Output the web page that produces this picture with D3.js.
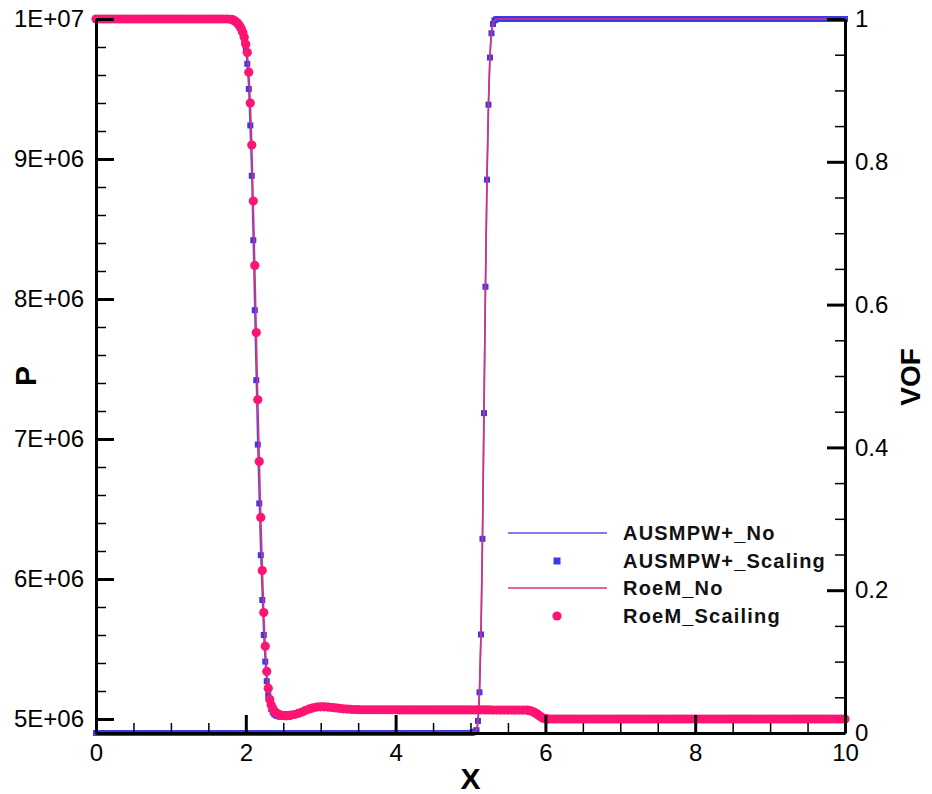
<!DOCTYPE html>
<html>
<head>
<meta charset="utf-8">
<script src="https://cdn.jsdelivr.net/npm/d3@7"></script>
<style>
  html, body { margin: 0; padding: 0; background: #fff; }
  svg { display: block; }
  text { font-family: "Liberation Sans", Arial, sans-serif; }
</style>
</head>
<body>
<svg id="chart" width="932" height="794"></svg>
<script>
// ---------------- DATA ----------------
// Tick values / labels
const xTickValues = [0, 2, 4, 6, 8, 10];
const xTickLabels = ["0", "2", "4", "6", "8", "10"];
const pTickValues = [5, 6, 7, 8, 9, 10];            // pressure in units of 1E+06
const pTickLabels = ["5E+06", "6E+06", "7E+06", "8E+06", "9E+06", "1E+07"];
const vofTickValues = [0, 0.2, 0.4, 0.6, 0.8, 1];
const vofTickLabels = ["0", "0.2", "0.4", "0.6", "0.8", "1"];

const legendLabels = ["AUSMPW+_No", "AUSMPW+_Scaling", "RoeM_No", "RoeM_Scailing"];

// Grid for pressure markers (X)
const xP = [
  0,0.05,0.1,0.15,0.2,0.25,0.3,0.35,0.4,0.45,
  0.5,0.55,0.6,0.65,0.7,0.75,0.8,0.85,0.9,0.95,
  1,1.05,1.1,1.15,1.2,1.25,1.3,1.35,1.4,1.45,
  1.5,1.55,1.6,1.65,1.7,1.75,1.8,1.82,1.84,1.86,
  1.88,1.9,1.92,1.94,1.96,1.98,2,2.02,2.04,2.06,
  2.08,2.1,2.12,2.14,2.16,2.18,2.2,2.22,2.24,2.26,
  2.28,2.3,2.32,2.34,2.36,2.38,2.4,2.42,2.44,2.46,
  2.48,2.5,2.52,2.54,2.56,2.58,2.6,2.65,2.7,2.75,
  2.8,2.85,2.9,2.95,3,3.05,3.1,3.15,3.2,3.25,
  3.3,3.35,3.4,3.45,3.5,3.55,3.6,3.65,3.7,3.75,
  3.8,3.85,3.9,3.95,4,4.05,4.1,4.15,4.2,4.25,
  4.3,4.35,4.4,4.45,4.5,4.55,4.6,4.65,4.7,4.75,
  4.8,4.85,4.9,4.95,5,5.05,5.1,5.15,5.2,5.25,
  5.3,5.35,5.4,5.45,5.5,5.55,5.6,5.65,5.7,5.75,
  5.77,5.79,5.81,5.83,5.85,5.87,5.89,5.91,5.93,5.95,
  5.97,5.99,6.01,6.03,6.05,6.1,6.15,6.2,6.25,6.3,
  6.35,6.4,6.45,6.5,6.55,6.6,6.65,6.7,6.75,6.8,
  6.85,6.9,6.95,7,7.05,7.1,7.15,7.2,7.25,7.3,
  7.35,7.4,7.45,7.5,7.55,7.6,7.65,7.7,7.75,7.8,
  7.85,7.9,7.95,8,8.05,8.1,8.15,8.2,8.25,8.3,
  8.35,8.4,8.45,8.5,8.55,8.6,8.65,8.7,8.75,8.8,
  8.85,8.9,8.95,9,9.05,9.1,9.15,9.2,9.25,9.3,
  9.35,9.4,9.45,9.5,9.55,9.6,9.65,9.7,9.75,9.8,
  9.85,9.9,9.95,10
];

// AUSMPW+_Scaling pressure (x1E+06)
const pAusmScaling = [
  10,10,10,10,10,10,10,10,10,10,
  10,10,10,10,10,10,10,10,10,10,
  10,10,10,10,10,10,10,10,10,10,
  10,10,10,10,10,10,9.997,9.993,9.987,9.98,
  9.97,9.955,9.94,9.915,9.885,9.84,9.78,9.68,9.5,9.24,
  8.88,8.42,7.92,7.42,6.96,6.54,6.17,5.85,5.6,5.41,
  5.27,5.17,5.11,5.07,5.048,5.035,5.027,5.022,5.019,5.017,
  5.016,5.016,5.016,5.017,5.018,5.02,5.022,5.028,5.037,5.048,
  5.062,5.075,5.085,5.091,5.094,5.094,5.092,5.088,5.084,5.08,
  5.076,5.073,5.071,5.069,5.068,5.067,5.066,5.066,5.066,5.066,
  5.066,5.066,5.066,5.066,5.066,5.065,5.065,5.065,5.065,5.065,
  5.065,5.065,5.065,5.065,5.065,5.065,5.065,5.065,5.065,5.065,
  5.065,5.065,5.065,5.065,5.065,5.065,5.065,5.065,5.065,5.065,
  5.064,5.064,5.064,5.064,5.064,5.064,5.064,5.064,5.064,5.064,
  5.062,5.059,5.056,5.052,5.047,5.041,5.034,5.026,5.018,5.011,
  5.005,5.002,5.001,5,5,5,5,5,5,5,
  5,5,5,5,5,5,5,5,5,5,
  5,5,5,5,5,5,5,5,5,5,
  5,5,5,5,5,5,5,5,5,5,
  5,5,5,5,5,5,5,5,5,5,
  5,5,5,5,5,5,5,5,5,5,
  5,5,5,5,5,5,5,5,5,5,
  5,5,5,5,5,5,5,5,5,5,
  5,5,5,5
];

// RoeM_Scailing pressure (x1E+06)
const pRoemScailing = [
  10,10,10,10,10,10,10,10,10,10,
  10,10,10,10,10,10,10,10,10,10,
  10,10,10,10,10,10,10,10,10,10,
  10,10,10,10,10,10,9.998,9.995,9.99,9.985,
  9.975,9.965,9.95,9.93,9.905,9.87,9.82,9.76,9.62,9.4,
  9.1,8.7,8.24,7.76,7.28,6.84,6.44,6.06,5.76,5.52,
  5.34,5.22,5.14,5.1,5.075,5.058,5.046,5.038,5.032,5.028,
  5.026,5.025,5.024,5.024,5.024,5.025,5.027,5.032,5.04,5.05,
  5.062,5.072,5.08,5.085,5.087,5.087,5.085,5.082,5.079,5.076,
  5.073,5.071,5.069,5.068,5.067,5.066,5.066,5.066,5.066,5.066,
  5.066,5.066,5.066,5.066,5.066,5.065,5.065,5.065,5.065,5.065,
  5.065,5.065,5.065,5.065,5.065,5.065,5.065,5.065,5.065,5.065,
  5.065,5.065,5.065,5.065,5.065,5.065,5.065,5.065,5.065,5.065,
  5.064,5.064,5.064,5.064,5.064,5.064,5.064,5.064,5.064,5.064,
  5.062,5.06,5.057,5.053,5.048,5.042,5.035,5.027,5.019,5.012,
  5.006,5.003,5.001,5,5,5,5,5,5,5,
  5,5,5,5,5,5,5,5,5,5,
  5,5,5,5,5,5,5,5,5,5,
  5,5,5,5,5,5,5,5,5,5,
  5,5,5,5,5,5,5,5,5,5,
  5,5,5,5,5,5,5,5,5,5,
  5,5,5,5,5,5,5,5,5,5,
  5,5,5,5,5,5,5,5,5,5,
  5,5,5,5
];

// Grid for VOF markers (X)
const xV = [
  0,0.05,0.1,0.15,0.2,0.25,0.3,0.35,0.4,0.45,
  0.5,0.55,0.6,0.65,0.7,0.75,0.8,0.85,0.9,0.95,
  1,1.05,1.1,1.15,1.2,1.25,1.3,1.35,1.4,1.45,
  1.5,1.55,1.6,1.65,1.7,1.75,1.8,1.85,1.9,1.95,
  2,2.05,2.1,2.15,2.2,2.25,2.3,2.35,2.4,2.45,
  2.5,2.55,2.6,2.65,2.7,2.75,2.8,2.85,2.9,2.95,
  3,3.05,3.1,3.15,3.2,3.25,3.3,3.35,3.4,3.45,
  3.5,3.55,3.6,3.65,3.7,3.75,3.8,3.85,3.9,3.95,
  4,4.05,4.1,4.15,4.2,4.25,4.3,4.35,4.4,4.45,
  4.5,4.55,4.6,4.65,4.7,4.75,4.8,4.85,4.9,4.95,
  5,5.02,5.04,5.06,5.08,5.1,5.12,5.14,5.16,5.18,
  5.2,5.22,5.24,5.26,5.28,5.3,5.32,5.34,5.36,5.38,
  5.4,5.45,5.5,5.55,5.6,5.65,5.7,5.75,5.8,5.85,
  5.9,5.95,6,6.05,6.1,6.15,6.2,6.25,6.3,6.35,
  6.4,6.45,6.5,6.55,6.6,6.65,6.7,6.75,6.8,6.85,
  6.9,6.95,7,7.05,7.1,7.15,7.2,7.25,7.3,7.35,
  7.4,7.45,7.5,7.55,7.6,7.65,7.7,7.75,7.8,7.85,
  7.9,7.95,8,8.05,8.1,8.15,8.2,8.25,8.3,8.35,
  8.4,8.45,8.5,8.55,8.6,8.65,8.7,8.75,8.8,8.85,
  8.9,8.95,9,9.05,9.1,9.15,9.2,9.25,9.3,9.35,
  9.4,9.45,9.5,9.55,9.6,9.65,9.7,9.75,9.8,9.85,
  9.9,9.95,10
];

// AUSMPW+_Scaling VOF
const vofAusmScaling = [
  0,0,0,0,0,0,0,0,0,0,
  0,0,0,0,0,0,0,0,0,0,
  0,0,0,0,0,0,0,0,0,0,
  0,0,0,0,0,0,0,0,0,0,
  0,0,0,0,0,0,0,0,0,0,
  0,0,0,0,0,0,0,0,0,0,
  0,0,0,0,0,0,0,0,0,0,
  0,0,0,0,0,0,0,0,0,0,
  0,0,0,0,0,0,0,0,0,0,
  0,0,0,0,0,0,0,0,0,0,
  0,0.0005,0.001,0.002,0.004,0.017,0.057,0.138,0.272,0.448,
  0.625,0.775,0.88,0.946,0.98,0.993,0.998,0.9995,1,1,
  1,1,1,1,1,1,1,1,1,1,
  1,1,1,1,1,1,1,1,1,1,
  1,1,1,1,1,1,1,1,1,1,
  1,1,1,1,1,1,1,1,1,1,
  1,1,1,1,1,1,1,1,1,1,
  1,1,1,1,1,1,1,1,1,1,
  1,1,1,1,1,1,1,1,1,1,
  1,1,1,1,1,1,1,1,1,1,
  1,1,1,1,1,1,1,1,1,1,
  1,1,1
];

// Line series (key points)
const xPLine = [0,1.8,1.9,1.96,2,2.04,2.08,2.12,2.16,2.2,
                2.24,2.28,2.32,2.36,2.42,2.5,2.6,2.75,2.9,3,
                3.2,3.5,4,5.75,5.81,5.87,5.93,5.99,6.05,10];
const pAusmNo = [10,9.997,9.955,9.885,9.78,9.5,8.88,7.92,6.96,6.17,
                 5.6,5.27,5.11,5.048,5.022,5.016,5.022,5.048,5.085,5.094,
                 5.084,5.068,5.066,5.064,5.056,5.041,5.018,5.002,5,5];
const pRoemNo = [10,9.998,9.965,9.905,9.82,9.62,9.1,8.24,7.28,6.44,
                 5.76,5.34,5.14,5.075,5.038,5.025,5.027,5.05,5.08,5.087,
                 5.079,5.067,5.066,5.064,5.057,5.042,5.019,5.003,5,5];
const xVLine = [0,5.04,5.06,5.08,5.1,5.12,5.14,5.16,5.18,5.2,5.22,5.24,5.26,5.28,5.3,5.32,5.36,10];
const vofAusmNo = [0,0.001,0.002,0.004,0.017,0.057,0.138,0.272,0.448,0.625,0.775,0.88,0.946,0.98,0.993,0.998,1,1];
const vofRoemNo = [0,0.001,0.002,0.005,0.018,0.059,0.14,0.275,0.452,0.628,0.777,0.882,0.947,0.981,0.993,0.998,1,1];

// ---------------- CHECKS ----------------
function check(a, b, name) { if (a.length !== b.length) throw new Error(name + " length mismatch " + a.length + " vs " + b.length); }
check(xP, pAusmScaling, "pAusmScaling");
check(xP, pRoemScailing, "pRoemScailing");
check(xV, vofAusmScaling, "vofAusmScaling");
check(xPLine, pAusmNo, "pAusmNo");
check(xPLine, pRoemNo, "pRoemNo");
check(xVLine, vofAusmNo, "vofAusmNo");
check(xVLine, vofRoemNo, "vofRoemNo");

// ---------------- LAYOUT ----------------
const W = 932, H = 794;
const mLeft = 96, mRight = 845, mTop = 19, mBottom = 733;
const colors = {
  blueLine: "#5a4fe0",
  blueMark: "#3a3ae8",
  pinkLine: "#d8307c",
  pinkMark: "#ff1473"
};

const svg = d3.select("#chart");
svg.append("rect").attr("width", W).attr("height", H).attr("fill", "#fff");

const x = d3.scaleLinear().domain([0, 10]).range([mLeft, mRight]);
const yP = d3.scaleLinear().domain([4.9, 10]).range([mBottom, mTop]);
const yV = d3.scaleLinear().domain([0, 1]).range([mBottom, mTop]);

const zip = (xs, ys) => xs.map((d, i) => [d, ys[i]]);

const dataLayer = svg.append("g");

function drawLine(xs, ys, yScale, color) {
  const line = d3.line().x(d => x(d[0])).y(d => yScale(d[1])).curve(d3.curveMonotoneX);
  dataLayer.append("path").datum(zip(xs, ys))
    .attr("d", line).attr("fill", "none").attr("stroke", color).attr("stroke-width", 1.6);
}
function drawSquares(xs, ys, yScale, color) {
  dataLayer.append("g").selectAll("rect").data(zip(xs, ys)).join("rect")
    .attr("x", d => x(d[0]) - 3).attr("y", d => yScale(d[1]) - 3)
    .attr("width", 6).attr("height", 6).attr("fill", color);
}
function drawCircles(xs, ys, yScale, color) {
  dataLayer.append("g").selectAll("circle").data(zip(xs, ys)).join("circle")
    .attr("cx", d => x(d[0])).attr("cy", d => yScale(d[1]))
    .attr("r", 4.6).attr("fill", color);
}

// AUSMPW+_No
drawLine(xPLine, pAusmNo, yP, colors.blueLine);
drawLine(xVLine, vofAusmNo, yV, colors.blueLine);
// AUSMPW+_Scaling
drawSquares(xP, pAusmScaling, yP, colors.blueMark);
drawSquares(xV, vofAusmScaling, yV, colors.blueMark);
// RoeM_No
drawLine(xPLine, pRoemNo, yP, colors.pinkLine);
drawLine(xVLine, vofRoemNo, yV, colors.pinkLine);
// RoeM_Scailing
drawCircles(xP, pRoemScailing, yP, colors.pinkMark);

// ---------------- AXES ----------------
function styleAxis(g, majorWidth) {
  g.selectAll(".domain").attr("stroke", "#000").attr("stroke-width", 3);
  g.selectAll(".tick line").attr("stroke", "#000").attr("stroke-width", majorWidth);
  g.selectAll(".tick text").attr("fill", "#000").attr("font-size", 24)
    .attr("font-family", '"Liberation Sans", Arial, sans-serif');
}

const xMinor = x.ticks(20).filter(v => !xTickValues.includes(v));
const pMinor = yP.ticks(25).filter(v => v >= 5 && !pTickValues.some(t => Math.abs(t - v) < 1e-9));
const vMinor = yV.ticks(20).filter(v => !vofTickValues.some(t => Math.abs(t - v) < 1e-9));

// minor ticks
svg.append("g").attr("transform", `translate(0,${mBottom})`)
  .call(d3.axisBottom(x).tickValues(xMinor).tickSize(-10).tickFormat(""))
  .call(g => { g.select(".domain").remove(); g.selectAll(".tick line").attr("stroke", "#000").attr("stroke-width", 1.5); });
svg.append("g").attr("transform", `translate(${mLeft},0)`)
  .call(d3.axisLeft(yP).tickValues(pMinor).tickSize(-10).tickFormat(""))
  .call(g => { g.select(".domain").remove(); g.selectAll(".tick line").attr("stroke", "#000").attr("stroke-width", 1.5); });
svg.append("g").attr("transform", `translate(${mRight},0)`)
  .call(d3.axisRight(yV).tickValues(vMinor).tickSize(-10).tickFormat(""))
  .call(g => { g.select(".domain").remove(); g.selectAll(".tick line").attr("stroke", "#000").attr("stroke-width", 1.5); });

// major axes
svg.append("g").attr("transform", `translate(0,${mBottom})`)
  .call(d3.axisBottom(x).tickValues(xTickValues).tickSize(-18).tickSizeOuter(0).tickPadding(11)
    .tickFormat((d, i) => xTickLabels[i]))
  .call(g => styleAxis(g, 3));
svg.append("g").attr("transform", `translate(${mLeft},0)`)
  .call(d3.axisLeft(yP).tickValues(pTickValues).tickSize(-18).tickSizeOuter(0).tickPadding(12)
    .tickFormat((d, i) => pTickLabels[i]))
  .call(g => styleAxis(g, 3));
svg.append("g").attr("transform", `translate(${mRight},0)`)
  .call(d3.axisRight(yV).tickValues(vofTickValues).tickSize(-18).tickSizeOuter(0).tickPadding(10)
    .tickFormat((d, i) => vofTickLabels[i]))
  .call(g => styleAxis(g, 3));

// Axis titles
svg.append("text").attr("transform", "translate(25,376) rotate(-90)")
  .attr("text-anchor", "middle").attr("dominant-baseline", "central")
  .attr("font-size", 30).attr("font-weight", "bold").text("P");
svg.append("text").attr("transform", "translate(910,377) rotate(-90)")
  .attr("text-anchor", "middle").attr("dominant-baseline", "central")
  .attr("font-size", 28).attr("font-weight", "bold").text("VOF");
svg.append("text").attr("x", (mLeft + mRight) / 2).attr("y", 789)
  .attr("text-anchor", "middle").attr("font-size", 30).attr("font-weight", "bold").text("X");

// ---------------- LEGEND ----------------
const legendRowsY = [533, 561, 588, 616];
const legendKinds = ["line", "square", "line", "circle"];
const legendColors = [colors.blueLine, colors.blueMark, colors.pinkLine, colors.pinkMark];
const lg = svg.append("g");
legendLabels.forEach((lab, i) => {
  const yy = legendRowsY[i];
  if (legendKinds[i] === "line") {
    lg.append("line").attr("x1", 508).attr("x2", 607).attr("y1", yy).attr("y2", yy)
      .attr("stroke", legendColors[i]).attr("stroke-width", 1.6);
  } else if (legendKinds[i] === "square") {
    lg.append("rect").attr("x", 557 - 3.5).attr("y", yy - 3.5).attr("width", 7).attr("height", 7)
      .attr("fill", legendColors[i]);
  } else {
    lg.append("circle").attr("cx", 557).attr("cy", yy).attr("r", 4.6).attr("fill", legendColors[i]);
  }
  lg.append("text").attr("x", 623).attr("y", yy + 7)
    .attr("font-size", 20).attr("font-weight", "bold").attr("letter-spacing", 1.2)
    .attr("fill", "#111").text(lab);
});
</script>
</body>
</html>
